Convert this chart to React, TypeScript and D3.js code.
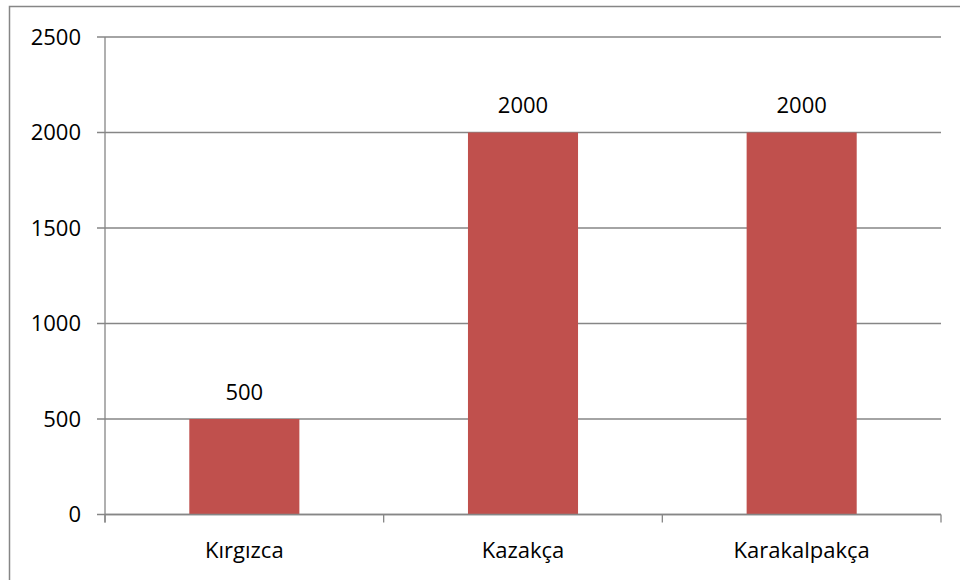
import React, { useEffect, useRef } from 'react';
import * as d3 from 'd3';

const categories = ['Kırgızca', 'Kazakça', 'Karakalpakça'];
const values = [500, 2000, 2000];
const yTicks = [0, 500, 1000, 1500, 2000, 2500];

const App = () => {
    const ref = useRef<SVGSVGElement>(null);

    useEffect(() => {
        const svg = d3.select(ref.current);
        svg.selectAll('*').remove();

        const font = "'Open Sans', sans-serif";
        const gridColor = '#868686';
        const left = 105, right = 941, top = 37, bottom = 514.5;

        // outer frame (only left and top edges fall inside the picture)
        svg.append('rect')
            .attr('x', 9.5).attr('y', 6.5)
            .attr('width', 960).attr('height', 600)
            .attr('fill', 'none').attr('stroke', gridColor).attr('stroke-width', 1.5);

        const x = d3.scaleBand<string>()
            .domain(categories)
            .range([left, right])
            .paddingInner(0.605)
            .paddingOuter(0.3025);

        const y = d3.scaleLinear().domain([0, 2500]).range([bottom, top]);

        // gridlines + y ticks
        const g = svg.append('g');
        g.selectAll('line.grid')
            .data(yTicks)
            .join('line')
            .attr('class', 'grid')
            .attr('x1', left - 8).attr('x2', right)
            .attr('y1', d => y(d)).attr('y2', d => y(d))
            .attr('stroke', gridColor).attr('stroke-width', 1.3);

        g.selectAll('text.ylab')
            .data(yTicks)
            .join('text')
            .attr('class', 'ylab')
            .attr('x', 81).attr('y', d => y(d))
            .attr('dy', '0.36em')
            .attr('text-anchor', 'end')
            .attr('font-family', font).attr('font-size', 22)
            .attr('fill', '#000')
            .text(d => d);

        // y axis line
        svg.append('line')
            .attr('x1', left).attr('x2', left)
            .attr('y1', top).attr('y2', bottom + 8)
            .attr('stroke', gridColor).attr('stroke-width', 1.3);

        // x axis ticks between categories
        const step = x.step();
        const xTicks = d3.range(categories.length + 1).map(i => left + i * step);
        svg.selectAll('line.xtick')
            .data(xTicks)
            .join('line')
            .attr('class', 'xtick')
            .attr('x1', d => d).attr('x2', d => d)
            .attr('y1', bottom).attr('y2', bottom + 8)
            .attr('stroke', gridColor).attr('stroke-width', 1.3);

        // bars
        svg.selectAll('rect.bar')
            .data(values)
            .join('rect')
            .attr('class', 'bar')
            .attr('x', (d, i) => x(categories[i])!)
            .attr('width', x.bandwidth())
            .attr('y', d => y(d))
            .attr('height', d => bottom - y(d))
            .attr('fill', '#C0504D');

        // redraw baseline over bars
        svg.append('line')
            .attr('x1', left).attr('x2', right)
            .attr('y1', bottom).attr('y2', bottom)
            .attr('stroke', gridColor).attr('stroke-width', 1.3);

        // value labels
        svg.selectAll('text.val')
            .data(values)
            .join('text')
            .attr('class', 'val')
            .attr('x', (d, i) => x(categories[i])! + x.bandwidth() / 2)
            .attr('y', d => y(d) - 27)
            .attr('dy', '0.36em')
            .attr('text-anchor', 'middle')
            .attr('font-family', font).attr('font-size', 22)
            .attr('fill', '#000')
            .text(d => d);

        // category labels
        svg.selectAll('text.cat')
            .data(categories)
            .join('text')
            .attr('class', 'cat')
            .attr('x', d => x(d)! + x.bandwidth() / 2)
            .attr('y', 550)
            .attr('dy', '0.36em')
            .attr('text-anchor', 'middle')
            .attr('font-family', font).attr('font-size', 22)
            .attr('fill', '#000')
            .text(d => d);
    }, []);

    return (
        <svg ref={ref} width={960} height={580}
            style={{ position: 'fixed', left: 0, top: 0, background: '#fff' }} />
    );
};

export default App;
